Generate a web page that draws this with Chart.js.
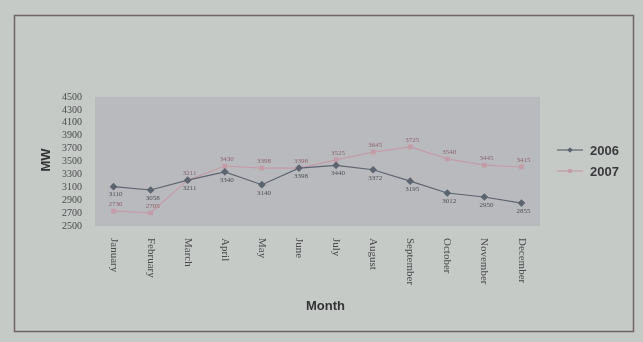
<!DOCTYPE html>
<html lang="en">
<head>
<meta charset="UTF-8">
<title>MW by Month</title>
<script src="https://cdn.jsdelivr.net/npm/chart.js@4"></script>
<style>
  html, body { margin: 0; padding: 0; background: #c6cac7; }
  #wrap { width: 643px; height: 342px; position: relative; }
</style>
</head>
<body>
<div id="wrap"><canvas id="chart" width="643" height="342"></canvas></div>
<script>
// data
const months = ['January', 'February', 'March', 'April', 'May', 'June', 'July',
                'August', 'September', 'October', 'November', 'December'];
const mw2006 = [3110, 3058, 3211, 3340, 3140, 3398, 3440, 3372, 3195, 3012, 2950, 2855];
const mw2007 = [2730, 2705, 3211, 3430, 3398, 3398, 3525, 3645, 3725, 3540, 3445, 3415];
const yTicks = [2500, 2700, 2900, 3100, 3300, 3500, 3700, 3900, 4100, 4300, 4500];

const col2006 = '#5d6470';
const col2007 = '#c49ca8';
const serif = '"Liberation Serif", "DejaVu Serif", serif';
const sans = '"Liberation Sans", Arial, sans-serif';

// frame, plot area, rotated month labels, titles, legend, point labels
const decor = {
  id: 'decor',
  beforeDraw(chart) {
    const ctx = chart.ctx, a = chart.chartArea;
    ctx.save();
    ctx.strokeStyle = '#6e6466';
    ctx.lineWidth = 1.5;
    ctx.strokeRect(14.5, 15.5, 619, 316);
    ctx.fillStyle = '#b9babd';
    ctx.fillRect(a.left, a.top, a.right - a.left, a.bottom - a.top);
    ctx.restore();
  },
  afterDraw(chart) {
    const ctx = chart.ctx, a = chart.chartArea;
    const xs = chart.scales.x;
    ctx.save();
    // month labels, reading top to bottom
    ctx.fillStyle = '#4a4a4c';
    ctx.font = '11px ' + serif;
    ctx.textAlign = 'left';
    ctx.textBaseline = 'middle';
    months.forEach((m, i) => {
      ctx.save();
      ctx.translate(xs.getPixelForValue(i), a.bottom + 12);
      ctx.rotate(Math.PI / 2);
      ctx.fillText(m, 0, 0);
      ctx.restore();
    });
    // axis titles
    ctx.fillStyle = '#333336';
    ctx.font = 'bold 13px ' + sans;
    ctx.textAlign = 'center';
    ctx.fillText('Month', (a.left + a.right) / 2 + 8, 306);
    ctx.save();
    ctx.translate(46, 160);
    ctx.rotate(-Math.PI / 2);
    ctx.fillText('MW', 0, 0);
    ctx.restore();
    // point labels
    ctx.font = '7px ' + serif;
    const meta0 = chart.getDatasetMeta(0), meta1 = chart.getDatasetMeta(1);
    meta0.data.forEach((p, i) => {
      ctx.fillStyle = '#4c4f58';
      ctx.fillText(String(mw2006[i]), p.x + 2, p.y + 8);
    });
    meta1.data.forEach((p, i) => {
      ctx.fillStyle = '#8a6470';
      ctx.fillText(String(mw2007[i]), p.x + 2, p.y - 7);
    });
    // legend
    const items = [['2006', col2006, 'rectRot', 150], ['2007', col2007, 'rect', 171]];
    items.forEach(([txt, c, shape, y]) => {
      ctx.strokeStyle = c;
      ctx.lineWidth = 1.2;
      ctx.beginPath();
      ctx.moveTo(557, y);
      ctx.lineTo(583, y);
      ctx.stroke();
      ctx.fillStyle = c;
      Chart.helpers.drawPoint(ctx, { pointStyle: shape, radius: 2.5, rotation: 0 }, 570, y);
      ctx.fill();
      ctx.fillStyle = '#3a3a3e';
      ctx.font = 'bold 13px ' + sans;
      ctx.textAlign = 'left';
      ctx.fillText(txt, 590, y + 1);
    });
    ctx.restore();
  }
};

new Chart(document.getElementById('chart'), {
  type: 'line',
  data: {
    labels: months,
    datasets: [
      {
        label: '2006', data: mw2006,
        borderColor: col2006, backgroundColor: col2006,
        borderWidth: 1.2, pointStyle: 'rectRot', pointRadius: 3,
        tension: 0
      },
      {
        label: '2007', data: mw2007,
        borderColor: col2007, backgroundColor: col2007,
        borderWidth: 1.2, pointStyle: 'rect', pointRadius: 2.5,
        tension: 0
      }
    ]
  },
  options: {
    responsive: false,
    animation: false,
    layout: { padding: { top: 97, right: 103, bottom: 0, left: 0 } },
    plugins: { legend: { display: false }, tooltip: { enabled: false } },
    scales: {
      x: {
        offset: true,
        ticks: { display: false },
        grid: { display: false, offset: true },
        border: { display: false },
        afterFit(s) { s.height = 116; }
      },
      y: {
        min: 2500, max: 4500,
        afterBuildTicks(s) { s.ticks = yTicks.map(v => ({ value: v })); },
        afterFit(s) { s.width = 95; },
        ticks: {
          autoSkip: false,
          callback: v => String(v),
          color: '#4a4a4c',
          font: { family: serif, size: 10 },
          padding: 5
        },
        grid: { display: false },
        border: { display: false }
      }
    }
  },
  plugins: [decor]
});
</script>
</body>
</html>
